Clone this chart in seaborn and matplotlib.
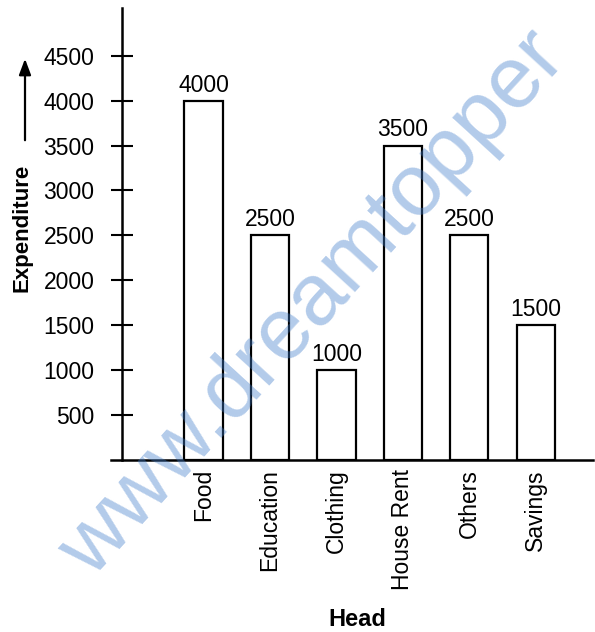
import matplotlib
matplotlib.use("Agg")
import matplotlib.pyplot as plt
import seaborn as sns
import pandas as pd

# Monthly expenditure by head
heads = ["Food", "Education", "Clothing", "House Rent", "Others", "Savings"]
expenditure = [4000, 2500, 1000, 3500, 2500, 1500]
y_ticks = [500, 1000, 1500, 2000, 2500, 3000, 3500, 4000, 4500]

sns.set_theme(style="white")
plt.rcParams["font.family"] = ["Liberation Sans", "DejaVu Sans"]

W, H = 595, 632
fig = plt.figure(figsize=(W / 100, H / 100), dpi=100)
fig.patch.set_facecolor("white")

# axes box in pixel terms: x-axis from 111 to 593, y from 8 (top) to 459.5 (base)
ax = fig.add_axes([111 / W, (H - 459.5) / H, (593 - 111) / W, (459.5 - 8) / H])
ax.set_facecolor("white")

df = pd.DataFrame({"Head": heads, "Expenditure": expenditure})
sns.barplot(data=df, x="Head", y="Expenditure", color="white", saturation=1,
            edgecolor="black", linewidth=1.6, width=0.576, ax=ax)

for cont in ax.containers:
    ax.bar_label(cont, labels=[str(v) for v in expenditure], padding=3,
                 fontsize=16.5, color="black")

ax.set_xlim(-1.392, 5.861)
ax.set_ylim(0, 5035)

for side in ["top", "right"]:
    ax.spines[side].set_visible(False)
ax.spines["left"].set_position(("data", -1.226))
ax.spines["left"].set_linewidth(1.8)
ax.spines["bottom"].set_linewidth(1.8)
ax.spines["left"].set_color("black")
ax.spines["bottom"].set_color("black")

ax.set_yticks(y_ticks)
ax.set_yticklabels([str(t) for t in y_ticks])
ax.tick_params(axis="y", direction="inout", length=16, width=1.5, pad=12,
               labelsize=16.5, colors="black", left=True)
ax.tick_params(axis="x", length=0, pad=7, labelsize=16.5, colors="black",
               labelrotation=90)
ax.set_xlabel("")
ax.set_ylabel("")

# axis titles and the upward arrow beside the vertical title
fig.text(22 / W, (H - 228) / H, "Expenditure", rotation=90, ha="center",
         va="center", fontsize=16, fontweight="bold", color="black")
fig.text(357 / W, (H - 620) / H, "Head", ha="center", va="center",
         fontsize=17, fontweight="bold", color="black")
ax.annotate("", xy=(25, H - 56), xycoords="figure pixels",
            xytext=(25, H - 143), textcoords="figure pixels",
            arrowprops=dict(arrowstyle="-|>,head_length=0.8,head_width=0.3",
                            color="black", lw=1.6))

# site watermark across the plot
fig.text(92 / W, (H - 580) / H, "www.dreamtopper", rotation=47.5,
         rotation_mode="anchor", ha="left", va="baseline", fontsize=63,
         color="#417dca", alpha=0.4, zorder=10)

fig.savefig("out.png", dpi=100, facecolor="white")
